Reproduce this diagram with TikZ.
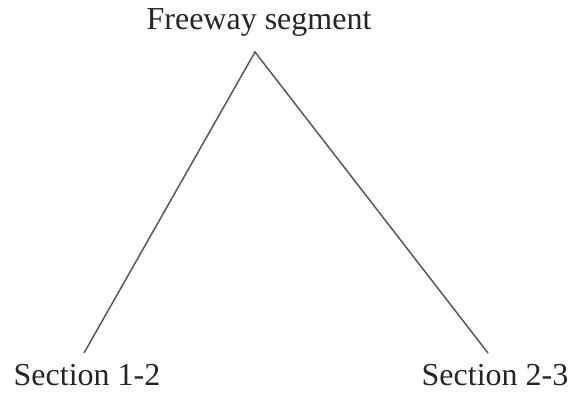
\documentclass[tikz,border=0pt]{standalone}
\usepackage{fontspec}
\setmainfont{Liberation Serif}
\begin{document}
\begin{tikzpicture}[x=1pt,y=1pt,
  lbl/.style={inner sep=0pt, font=\fontsize{32}{35}\selectfont, text=black!85},
  edge/.style={draw=black!65, line width=1.5pt}]
\useasboundingbox (0,0) rectangle (571,400);
\node[lbl] (top) at (259,378) {Freeway segment};
\node[lbl] (s12) at (87,25) {Section 1-2};
\node[lbl] (s23) at (495,25) {Section 2-3};
\coordinate (apex) at (255,348);
\coordinate (lend) at (84,47);
\coordinate (rend) at (488,47);
\draw[edge] (lend) -- (apex) -- (rend);
\end{tikzpicture}
\end{document}
